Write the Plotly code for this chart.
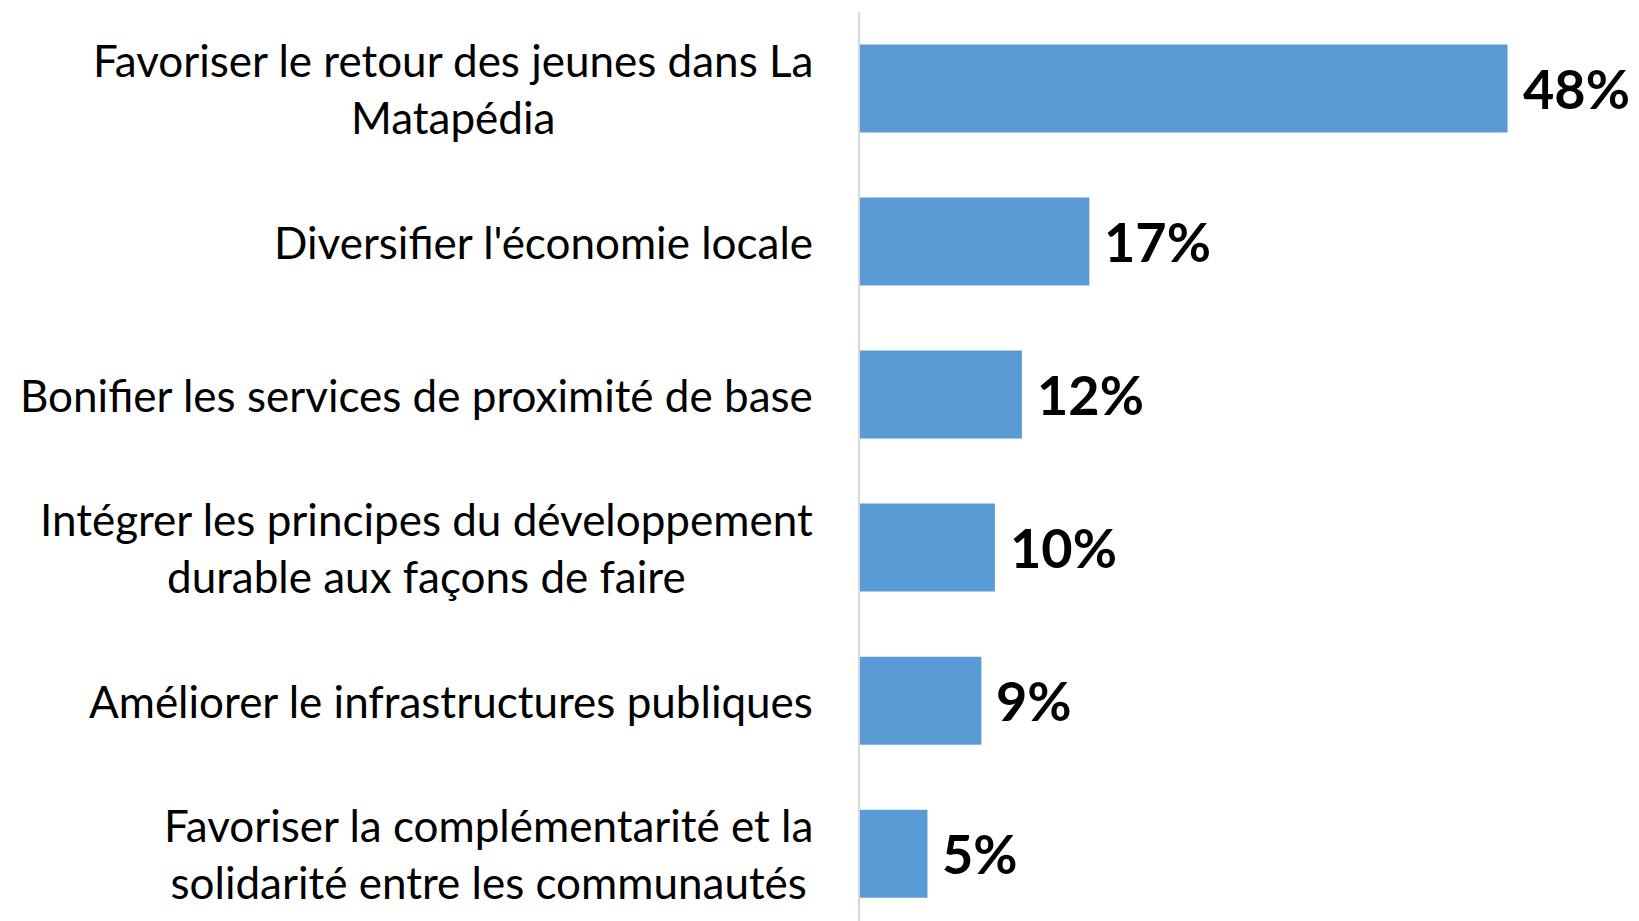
import plotly.graph_objects as go

categories = [
    "Favoriser le retour des jeunes dans La<br>Matapédia",
    "Diversifier l'économie locale",
    "Bonifier les services de proximité de base",
    "Intégrer les principes du développement<br>durable aux façons de faire",
    "Améliorer le infrastructures publiques",
    "Favoriser la complémentarité et la<br>solidarité entre les communautés",
]
values = [48, 17, 12, 10, 9, 5]
value_labels = ["48%", "17%", "12%", "10%", "9%", "5%"]

bar_color = "#5B9BD5"
label_font = "Lato"

fig = go.Figure()
fig.add_trace(go.Bar(
    x=values,
    y=categories,
    orientation="h",
    marker=dict(color=bar_color, line=dict(width=0)),
    hoverinfo="skip",
))

annotations = []
for cat, v, lab in zip(categories, values, value_labels):
    annotations.append(dict(
        x=0, y=cat, xref="x", yref="y", text=cat, showarrow=False,
        xanchor="right", yanchor="middle", align="center", xshift=-45,
        font=dict(family=label_font, size=44, color="#000000"),
    ))
    annotations.append(dict(
        x=v, y=cat, xref="x", yref="y", text="<b>" + lab + "</b>", showarrow=False,
        xanchor="left", yanchor="middle", xshift=13,
        font=dict(family=label_font, size=54, color="#000000"),
    ))

fig.update_layout(
    width=1631, height=913,
    margin=dict(l=852, r=37, t=4, b=0),
    paper_bgcolor="white", plot_bgcolor="white",
    bargap=0.425,
    showlegend=False,
    annotations=annotations,
    xaxis=dict(range=[0, 55], visible=False, showgrid=False, zeroline=False),
    yaxis=dict(
        type="category", categoryorder="array", categoryarray=categories,
        range=[5.44, -0.5], showticklabels=False, showgrid=False,
        zeroline=False, showline=True, linecolor="#D9D9D9", linewidth=2,
        ticks="",
    ),
)

fig.write_html("out.html")
